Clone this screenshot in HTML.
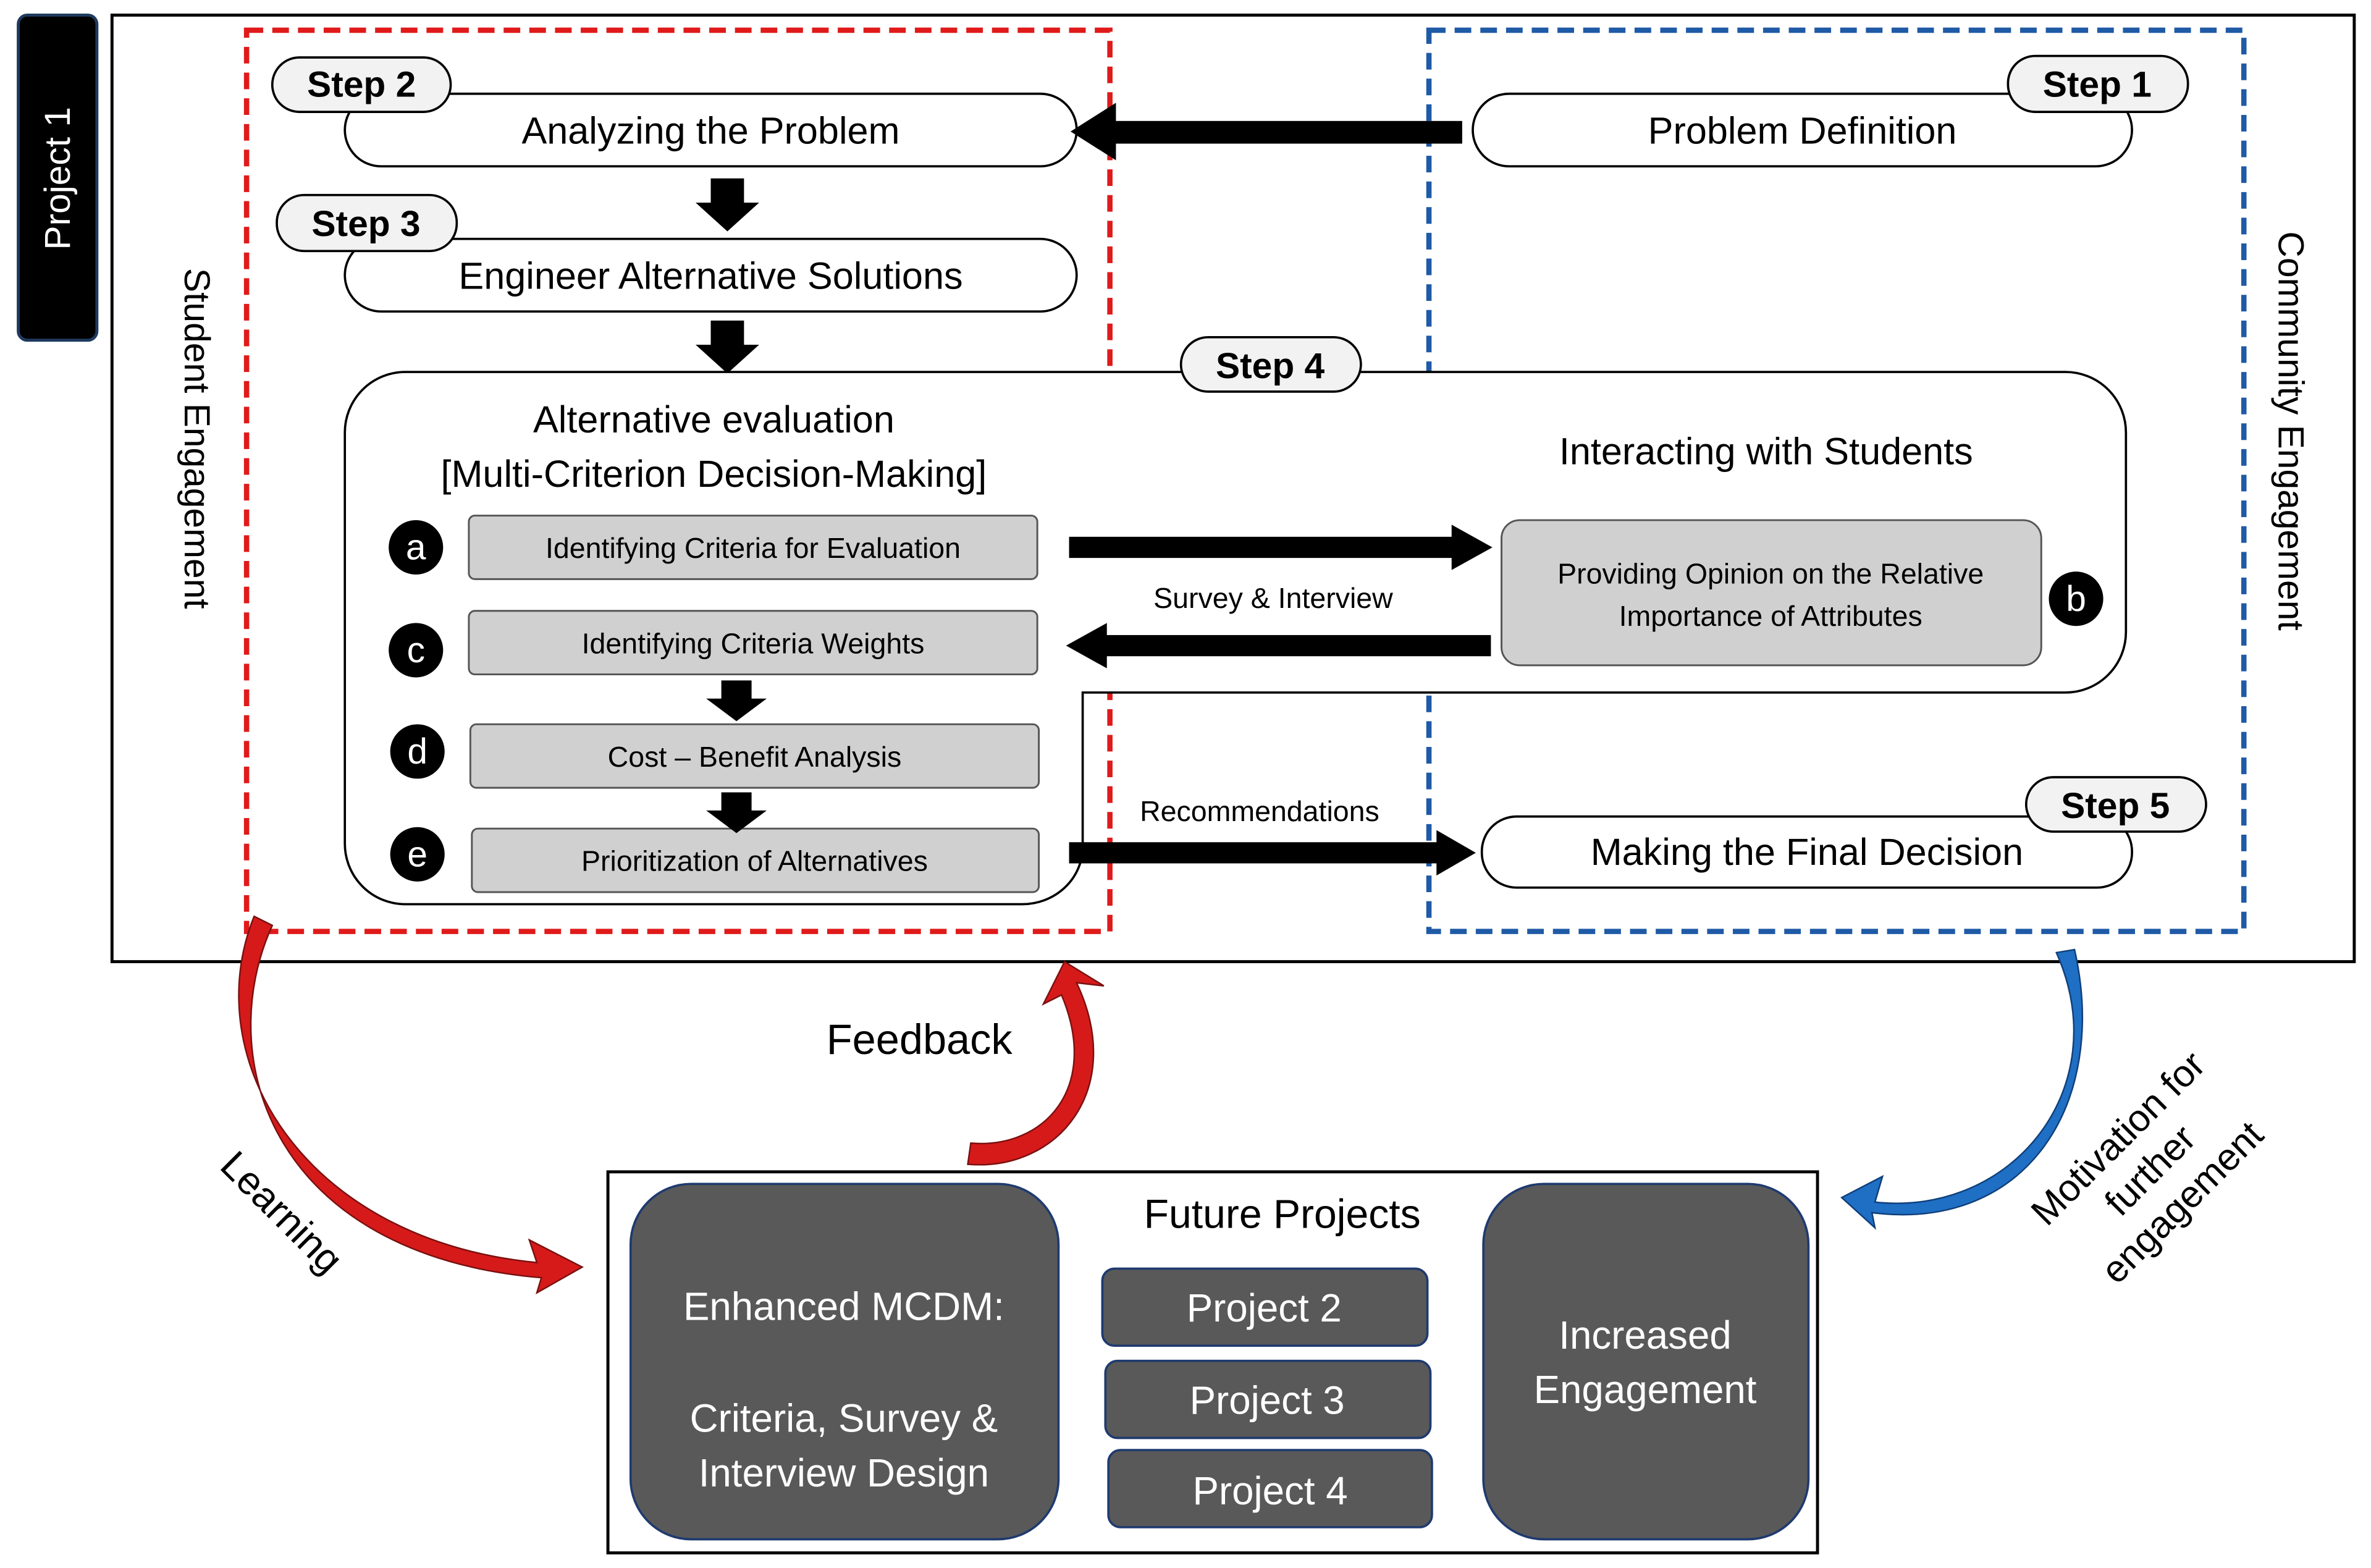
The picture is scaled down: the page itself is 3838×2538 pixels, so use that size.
<!DOCTYPE html>
<html><head><meta charset="utf-8"><style>
html,body{margin:0;padding:0;background:#fff;}
svg{display:block;}
text{font-family:"Liberation Sans","DejaVu Sans",sans-serif;}
</style></head><body>
<svg width="3838" height="2538" viewBox="0 0 1568 1037" xmlns="http://www.w3.org/2000/svg">
<defs>
<marker id="ah" viewBox="0 0 10 10" refX="2" refY="5" markerWidth="2.6" markerHeight="2.6" orient="auto"><path d="M0,0 L10,5 L0,10 z" fill="#000"/></marker>
</defs>
<rect width="1568" height="1037" fill="#fff"/>
<!-- project tab -->
<rect x="12" y="10" width="52" height="215" rx="6" fill="#000" stroke="#1f3a5f" stroke-width="2"/>
<text transform="translate(46,118) rotate(-90)" text-anchor="middle" font-size="24" fill="#fff">Project 1</text>
<!-- main box -->
<rect x="74" y="10" width="1483" height="626" fill="none" stroke="#000" stroke-width="2"/>
<rect x="163" y="20" width="571" height="596" fill="none" stroke="#e01a1a" stroke-width="3.5" stroke-dasharray="11,6"/>
<rect x="945" y="20" width="539" height="596" fill="none" stroke="#1f5aa6" stroke-width="3.5" stroke-dasharray="11,6"/>
<text transform="translate(122,290) rotate(90)" text-anchor="middle" font-size="24">Student Engagement</text>
<text transform="translate(1507,285) rotate(90)" text-anchor="middle" font-size="24">Community Engagement</text>
<!-- step 2 -->
<rect x="228" y="62" width="484" height="48" rx="24" fill="#fff" stroke="#000" stroke-width="1.5"/>
<text x="470" y="95" text-anchor="middle" font-size="25">Analyzing the Problem</text>
<rect x="180" y="38" width="118" height="36" rx="18" fill="#f2f2f2" stroke="#000" stroke-width="1.5"/>
<text x="239" y="64" text-anchor="middle" font-size="24" font-weight="bold">Step 2</text>
<!-- step 1 -->
<rect x="974" y="62" width="436" height="48" rx="24" fill="#fff" stroke="#000" stroke-width="1.5"/>
<text x="1192" y="95" text-anchor="middle" font-size="25">Problem Definition</text>
<rect x="1328" y="37" width="119" height="37" rx="18" fill="#f2f2f2" stroke="#000" stroke-width="1.5"/>
<text x="1387" y="64" text-anchor="middle" font-size="24" font-weight="bold">Step 1</text>
<!-- arrow step1->2 -->
<rect x="735" y="80" width="232" height="15" fill="#000"/>
<polygon points="708,87 738,68 738,106" fill="#000"/>
<!-- down arrows -->
<polygon points="470,118 492,118 492,134 502,134 481,153 460,134 470,134" fill="#000"/>
<polygon points="470,212 492,212 492,228 502,228 481,247 460,228 470,228" fill="#000"/>
<!-- step 3 -->
<rect x="228" y="158" width="484" height="48" rx="24" fill="#fff" stroke="#000" stroke-width="1.5"/>
<text x="470" y="191" text-anchor="middle" font-size="25">Engineer Alternative Solutions</text>
<rect x="183" y="129" width="119" height="37" rx="18" fill="#f2f2f2" stroke="#000" stroke-width="1.5"/>
<text x="242" y="156" text-anchor="middle" font-size="24" font-weight="bold">Step 3</text>
<!-- step 4 big shape -->
<path d="M268,246 L1366,246 A40,40 0 0 1 1406,286 L1406,418 A40,40 0 0 1 1366,458 L716,458 L716,560 A40,38 0 0 1 676,598 L268,598 A40,40 0 0 1 228,558 L228,286 A40,40 0 0 1 268,246 Z" fill="#fff" stroke="#000" stroke-width="1.5"/>
<rect x="781" y="223" width="119" height="36" rx="18" fill="#f2f2f2" stroke="#000" stroke-width="1.5"/>
<text x="840" y="250" text-anchor="middle" font-size="24" font-weight="bold">Step 4</text>
<text x="472" y="286" text-anchor="middle" font-size="25">Alternative evaluation</text>
<text x="472" y="322" text-anchor="middle" font-size="25">[Multi-Criterion Decision-Making]</text>
<text x="1168" y="307" text-anchor="middle" font-size="25">Interacting with Students</text>
<!-- grey boxes -->
<g fill="#d0d0d0" stroke="#555" stroke-width="1.2">
<rect x="310" y="341" width="376" height="42" rx="4"/>
<rect x="310" y="404" width="376" height="42" rx="4"/>
<rect x="311" y="479" width="376" height="42" rx="4"/>
<rect x="312" y="548" width="375" height="42" rx="4"/>
<rect x="993" y="344" width="357" height="96" rx="12"/>
</g>
<g font-size="19" text-anchor="middle">
<text x="498" y="369">Identifying Criteria for Evaluation</text>
<text x="498" y="432">Identifying Criteria Weights</text>
<text x="499" y="507">Cost – Benefit Analysis</text>
<text x="499" y="576">Prioritization of Alternatives</text>
<text x="1171" y="386">Providing Opinion on the Relative</text>
<text x="1171" y="414">Importance of Attributes</text>
</g>
<g fill="#000"><circle cx="275" cy="362" r="18"/><circle cx="275" cy="430" r="18"/><circle cx="276" cy="497" r="18"/><circle cx="276" cy="565" r="18"/><circle cx="1373" cy="396" r="18"/></g>
<g fill="#fff" font-size="24" text-anchor="middle">
<text x="275" y="370">a</text><text x="275" y="438">c</text><text x="276" y="505">d</text><text x="276" y="573">e</text><text x="1373" y="404">b</text>
</g>
<polygon points="477,450 497,450 497,462 507,462 487,477 467,462 477,462" fill="#000"/>
<polygon points="477,524 497,524 497,536 507,536 487,551 467,536 477,536" fill="#000"/>
<!-- horizontal arrows -->
<rect x="707" y="355" width="255" height="14" fill="#000"/><polygon points="987,362 960,347 960,377" fill="#000"/>
<rect x="730" y="420" width="256" height="14" fill="#000"/><polygon points="705,427 732,412 732,442" fill="#000"/>
<text x="842" y="402" text-anchor="middle" font-size="19">Survey &amp; Interview</text>
<rect x="707" y="557" width="245" height="14" fill="#000"/><polygon points="976,564 950,549 950,579" fill="#000"/>
<text x="833" y="543" text-anchor="middle" font-size="19">Recommendations</text>
<!-- step 5 -->
<rect x="980" y="540" width="430" height="47" rx="23" fill="#fff" stroke="#000" stroke-width="1.5"/>
<text x="1195" y="572" text-anchor="middle" font-size="25">Making the Final Decision</text>
<rect x="1340" y="514" width="119" height="36" rx="18" fill="#f2f2f2" stroke="#000" stroke-width="1.5"/>
<text x="1399" y="541" text-anchor="middle" font-size="24" font-weight="bold">Step 5</text>
<!-- bottom box -->
<rect x="402" y="775" width="800" height="252" fill="#fff" stroke="#000" stroke-width="2"/>
<text x="848" y="812" text-anchor="middle" font-size="27">Future Projects</text>
<g fill="#595959" stroke="#1f3a6f" stroke-width="1.5">
<rect x="417" y="783" width="283" height="235" rx="40"/>
<rect x="981" y="783" width="215" height="235" rx="40"/>
<rect x="729" y="839" width="215" height="51" rx="8"/>
<rect x="731" y="900" width="215" height="51" rx="8"/>
<rect x="733" y="959" width="214" height="51" rx="8"/>
</g>
<g fill="#fff" font-size="26" text-anchor="middle">
<text x="558" y="873">Enhanced MCDM:</text>
<text x="558" y="947">Criteria, Survey &amp;</text>
<text x="558" y="983">Interview Design</text>
<text x="1088" y="892">Increased</text>
<text x="1088" y="928">Engagement</text>
<text x="836" y="874">Project 2</text>
<text x="838" y="935">Project 3</text>
<text x="840" y="995">Project 4</text>
</g>
<!-- curved arrows -->
<path d="M168,606 C130,700 200,820 355,835 L350,820 L385,838 L355,855 L358,845 C180,830 140,700 180,612 Z" fill="#d61a1a" stroke="#7a1010" stroke-width="1"/>
<path d="M640,770 C700,775 745,720 712,650 L730,652 L704,636 L690,664 L702,658 C728,720 690,760 642,756 Z" fill="#d61a1a" stroke="#7a1010" stroke-width="1"/>
<path d="M1360,630 C1400,720 1330,805 1240,795 L1245,778 L1218,792 L1240,812 L1238,802 C1340,815 1395,730 1372,628 Z" fill="#1f6fc4" stroke="#0f3f7a" stroke-width="1"/>
<text x="608" y="697" text-anchor="middle" font-size="28">Feedback</text>
<text transform="translate(180,808) rotate(45)" text-anchor="middle" font-size="26">Learning</text>
<g transform="translate(1428,780) rotate(-45)" font-size="25" text-anchor="middle">
<text x="0" y="-30">Motivation for</text><text x="0" y="0">further</text><text x="0" y="30">engagement</text>
</g>
</svg>
</body></html>
